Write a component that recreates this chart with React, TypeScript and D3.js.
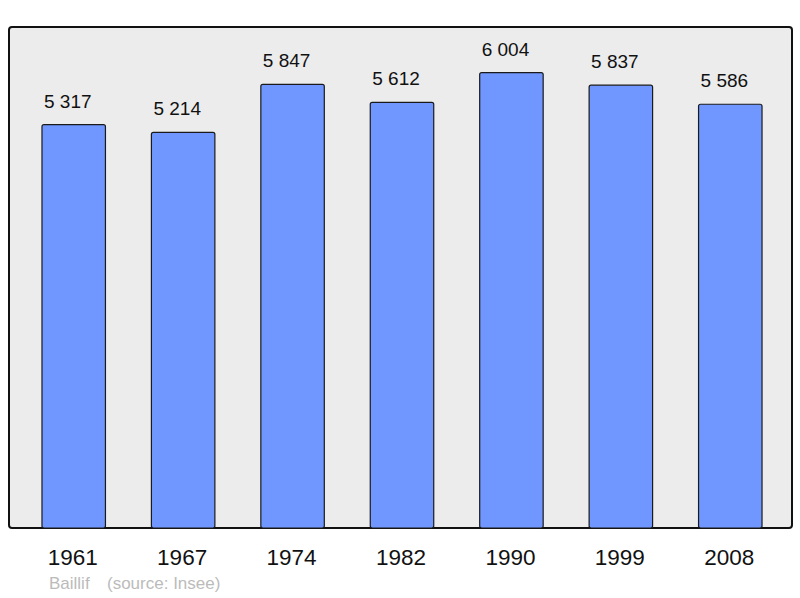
import React from 'react'
import * as d3 from 'd3'

const years = ['1961', '1967', '1974', '1982', '1990', '1999', '2008']
const population = [5317, 5214, 5847, 5612, 6004, 5837, 5586]
const commune = 'Baillif'
const source = '(source: Insee)'

const width = 800
const height = 598
const frame = { left: 9, top: 27, right: 792, bottom: 528 }
const font = '"Liberation Sans", Arial, sans-serif'

const fmt = (v: number) => d3.format(',')(v).replace(/,/g, ' ')

export default function App() {
  // band layout: bars ~58% of their slot
  const x = d3.scaleBand<string>()
    .domain(years)
    .range([19, 785])
    .paddingInner(0.42)
    .paddingOuter(0.21)

  const y = d3.scaleLinear()
    .domain([0, d3.max(population)! * 1.1])
    .range([frame.bottom, frame.top])

  return (
    <svg width={width} height={height}
      style={{ position: 'absolute', left: 0, top: 0, background: '#fff' }}
      fontFamily={font}>
      <rect x={frame.left} y={frame.top}
        width={frame.right - frame.left} height={frame.bottom - frame.top}
        rx={3} fill="#ececec" stroke="#111" strokeWidth={2} />

      {years.map((yr, i) => {
        const bx = x(yr)!
        const top = y(population[i])
        return (
          <g key={yr}>
            <rect x={bx} y={top} width={x.bandwidth()} height={frame.bottom - top}
              rx={2} fill="#7097ff" stroke="#1a1a1a" strokeWidth={1.2} />
            <text x={bx + 2} y={top - 17} fontSize={19} fill="#111">
              {fmt(population[i])}
            </text>
            <text x={bx + x.bandwidth() / 2 - 1} y={565} fontSize={22.5}
              textAnchor="middle" fill="#111">
              {yr}
            </text>
          </g>
        )
      })}

      <text x={49} y={589} fontSize={17} fill="#bbb">{commune}</text>
      <text x={107} y={589} fontSize={17} fill="#bbb">{source}</text>
    </svg>
  )
}
